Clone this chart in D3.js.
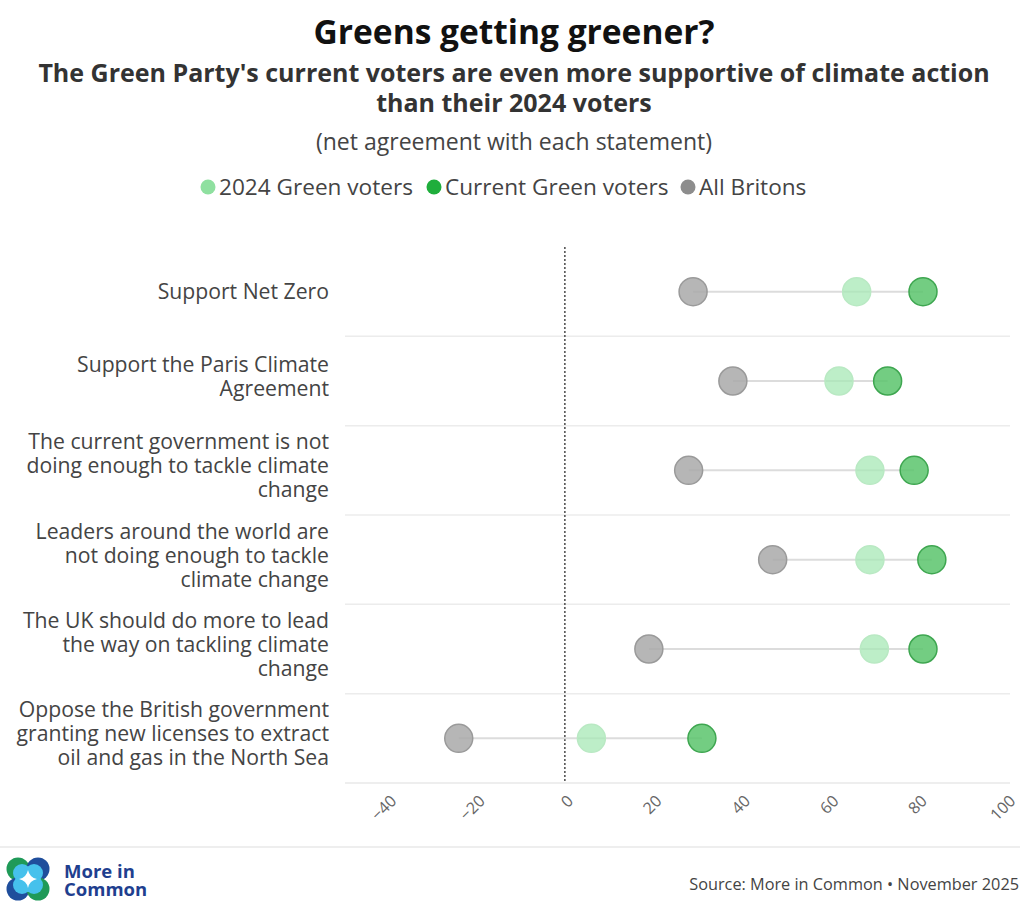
<!DOCTYPE html>
<html>
<head>
<meta charset="utf-8">
<script src="https://cdn.jsdelivr.net/npm/d3@7"></script>
<style>
  html, body { margin: 0; padding: 0; background: #fff; }
  svg { display: block; }
</style>
</head>
<body>
<svg id="chart" width="1020" height="902"></svg>
<script>
// Statements (line breaks mark how each label wraps)
const categories = [
  "Support Net Zero",
  "Support the Paris Climate\nAgreement",
  "The current government is not\ndoing enough to tackle climate\nchange",
  "Leaders around the world are\nnot doing enough to tackle\nclimate change",
  "The UK should do more to lead\nthe way on tackling climate\nchange",
  "Oppose the British government\ngranting new licenses to extract\noil and gas in the North Sea"
];

// Net agreement per group
const allBritons     = [29, 38, 28, 47, 19, -24];
const green2024      = [66, 62, 69, 69, 70, 6];
const greenCurrent   = [81, 73, 79, 83, 81, 31];

const tickValues = [-40, -20, 0, 20, 40, 60, 80, 100];

const seriesNames = ["2024 Green voters", "Current Green voters", "All Britons"];
const seriesFill   = ["#a7e8b5", "#5ac46c", "#a9a9a9"];
const seriesStroke = ["#b9e9c3", "#3ea650", "#9a9a9a"];
const legendDot    = ["#8fe0a0", "#1fae3c", "#8d8d8d"];

const svg = d3.select("#chart");
const font = "'Open Sans', sans-serif";

// Titles
svg.append("text").attr("x", 514).attr("y", 44).attr("text-anchor", "middle")
  .style("font-family", font).style("font-weight", 700)
  .style("font-size", "33.5px").attr("fill", "#111").text("Greens getting greener?");
svg.append("text").attr("x", 514).attr("y", 82).attr("text-anchor", "middle")
  .style("font-family", font).style("font-weight", 700)
  .style("font-size", "25px").attr("fill", "#333")
  .text("The Green Party's current voters are even more supportive of climate action");
svg.append("text").attr("x", 514).attr("y", 112).attr("text-anchor", "middle")
  .style("font-family", font).style("font-weight", 700)
  .style("font-size", "25px").attr("fill", "#333").text("than their 2024 voters");
svg.append("text").attr("x", 514).attr("y", 150).attr("text-anchor", "middle")
  .style("font-family", font).style("font-size", "23px")
  .attr("fill", "#444").text("(net agreement with each statement)");

// Legend
const legendX = [208, 434, 688];
const legend = svg.append("g");
seriesNames.forEach((n, i) => {
  legend.append("circle").attr("cx", legendX[i]).attr("cy", 187).attr("r", 7.5)
    .attr("fill", legendDot[i]);
  legend.append("text").attr("x", legendX[i] + 11).attr("y", 195)
    .style("font-family", font).style("font-size", "22.6px")
    .attr("fill", "#444").text(n);
});

// Scales
const x = d3.scaleLinear().domain([-40, 100]).range([388, 1007]);
const y = d3.scaleBand().domain(d3.range(categories.length)).range([247, 783]);

// Row separators
const plot = svg.append("g");
plot.selectAll("line.sep").data(d3.range(1, categories.length + 1)).join("line")
  .attr("class", "sep")
  .attr("x1", 345).attr("x2", 1010)
  .attr("y1", d => y(d - 1) + y.bandwidth())
  .attr("y2", d => y(d - 1) + y.bandwidth())
  .attr("stroke", d => d === categories.length ? "#e8e8e8" : "#ececec")
  .attr("stroke-width", 1.5);

// Zero reference line
plot.append("line").attr("x1", x(0)).attr("x2", x(0))
  .attr("y1", 247).attr("y2", 783)
  .attr("stroke", "#555").attr("stroke-width", 1.6).attr("stroke-dasharray", "2,2");

// Category labels
categories.forEach((c, i) => {
  const lines = c.split("\n");
  const cy = y(i) + y.bandwidth() / 2 - (lines.length > 1 ? 4 : 0);
  const t = svg.append("text").attr("text-anchor", "end")
    .style("font-family", font).style("font-size", "21.2px").attr("fill", "#444");
  lines.forEach((l, k) => {
    t.append("tspan").attr("x", 329)
      .attr("y", cy + (k - (lines.length - 1) / 2) * 24 + 7).text(l);
  });
});

// Connector lines
const rows = d3.range(categories.length).map(i => ({
  i, vals: [green2024[i], greenCurrent[i], allBritons[i]]
}));
plot.selectAll("line.conn").data(rows).join("line").attr("class", "conn")
  .attr("x1", d => x(d3.min(d.vals))).attr("x2", d => x(d3.max(d.vals)))
  .attr("y1", d => y(d.i) + y.bandwidth() / 2).attr("y2", d => y(d.i) + y.bandwidth() / 2)
  .attr("stroke", "#dcdcdc").attr("stroke-width", 2);

// Dots
[allBritons, green2024, greenCurrent].forEach(series => {
  const si = series === green2024 ? 0 : series === greenCurrent ? 1 : 2;
  plot.selectAll(null).data(series).join("circle")
    .attr("cx", d => x(d))
    .attr("cy", (d, i) => y(i) + y.bandwidth() / 2)
    .attr("r", 14)
    .attr("fill", seriesFill[si]).attr("fill-opacity", si === 0 ? 0.75 : 0.85)
    .attr("stroke", seriesStroke[si]).attr("stroke-width", 1.5);
});

// X axis tick labels
const axis = d3.axisBottom(x).tickValues(tickValues).tickSize(0).tickFormat(d3.format("d"));
const gx = svg.append("g").attr("transform", "translate(0,783)").call(axis);
gx.select(".domain").remove();
gx.selectAll("text")
  .style("font-family", font).style("font-size", "16px").attr("fill", "#666")
  .attr("text-anchor", "end")
  .attr("transform", "translate(5,15) rotate(-45)")
  .attr("dy", "0.35em").attr("y", 0).attr("x", 0);

// Footer
svg.append("line").attr("x1", 0).attr("x2", 1020).attr("y1", 847).attr("y2", 847)
  .attr("stroke", "#eee").attr("stroke-width", 2);

const logo = svg.append("g").attr("transform", "translate(28,879)");
[[-10, -10, "#1f9a58"], [10, -10, "#1f4e9c"], [-10, 10, "#1f4e9c"], [10, 10, "#1f9a58"]]
  .forEach(([dx, dy, c]) => logo.append("circle").attr("cx", dx).attr("cy", dy).attr("r", 11.5).attr("fill", c));
[[-6, -6], [6, -6], [-6, 6], [6, 6]].forEach(([dx, dy]) =>
  logo.append("circle").attr("cx", dx).attr("cy", dy).attr("r", 9).attr("fill", "#46c1ec"));
logo.append("path").attr("d", "M0,-9 Q1.5,-1.5 9,0 Q1.5,1.5 0,9 Q-1.5,1.5 -9,0 Q-1.5,-1.5 0,-9Z")
  .attr("fill", "#fff");

svg.append("text").attr("x", 64).attr("y", 878)
  .style("font-family", font).style("font-weight", 700)
  .style("font-size", "18.5px").attr("fill", "#1f3f8f").text("More in");
svg.append("text").attr("x", 64).attr("y", 896)
  .style("font-family", font).style("font-weight", 700)
  .style("font-size", "18.5px").attr("fill", "#1f3f8f").text("Common");

svg.append("text").attr("x", 1019).attr("y", 890).attr("text-anchor", "end")
  .style("font-family", font).style("font-size", "16.3px").attr("fill", "#444")
  .text("Source: More in Common \u2022 November 2025");
</script>
</body>
</html>
